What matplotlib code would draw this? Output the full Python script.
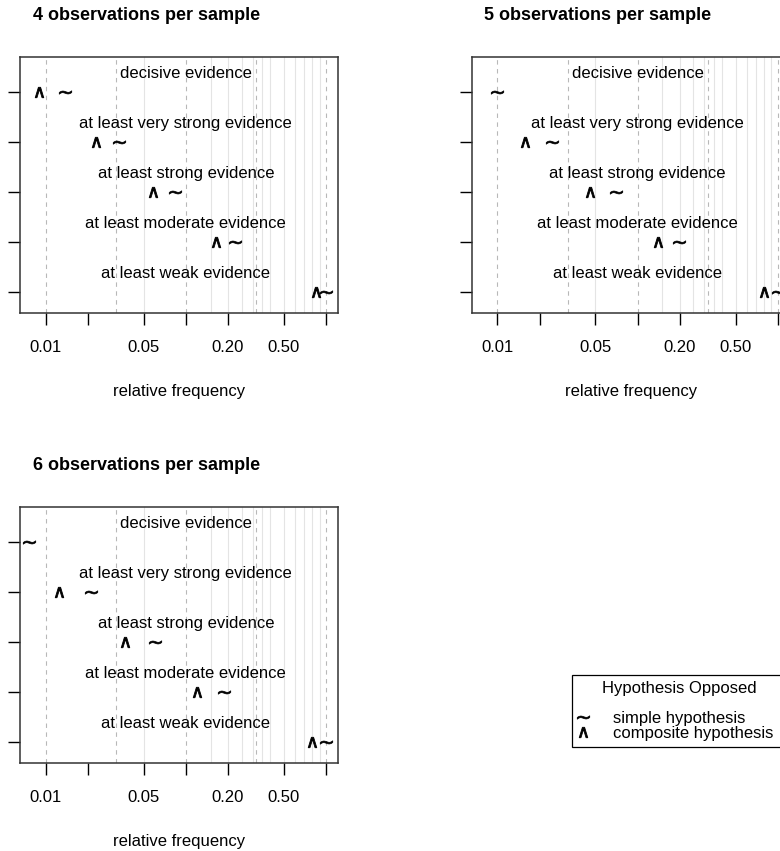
import numpy as np
import matplotlib
matplotlib.use('Agg')
import matplotlib.pyplot as plt
from matplotlib.lines import Line2D

plt.rcParams['font.family'] = ['Liberation Sans', 'DejaVu Sans']

# evidence categories, bottom row first
evidence = ['at least weak evidence', 'at least moderate evidence',
            'at least strong evidence', 'at least very strong evidence',
            'decisive evidence']
rows = [1, 2, 3, 4, 5]

titles = ['4 observations per sample', '5 observations per sample', '6 observations per sample']

# relative frequency where each level is reached
simple = [
    [1.0, 0.225, 0.084, 0.0334, 0.0138],
    [1.0, 0.198, 0.0703, 0.0247, 0.0100],
    [1.0, 0.186, 0.0604, 0.0210, 0.0076],
]
composite = [
    [0.853, 0.164, 0.0587, 0.0229, 0.0090],
    [0.793, 0.139, 0.0454, 0.0157, 0.0050],
    [0.794, 0.121, 0.0368, 0.0125, 0.0048],
]

xticks = [0.01, 0.02, 0.05, 0.1, 0.2, 0.5, 1.0]
xticklabels = ['0.01', '', '0.05', '', '0.20', '0.50', '']
dashed_lines = [0.01, 10 ** -1.5, 0.1, 10 ** -0.5, 1.0]
light_lines = [0.05, 0.15, 0.2, 0.25, 0.3, 0.35, 0.4, 0.5, 0.6, 0.7, 0.8, 0.9]

legend_title = 'Hypothesis Opposed'
legend_labels = ['simple hypothesis', 'composite hypothesis']

W, H = 780, 851
fig = plt.figure(figsize=(W / 100, H / 100), dpi=100)

# panel boxes in pixels (left, top); panel 2 runs past the right edge like the original
boxes = [(20, 57.3), (471.7, 57.3), (20, 507.3)]
bw, bh = 318, 255.7

for i, (x0, y0) in enumerate(boxes):
    ax = fig.add_axes([x0 / W, 1 - (y0 + bh) / H, bw / W, bh / H])
    ax.set_xscale('log')
    ax.set_xlim(0.00655, 1.218)
    ax.set_ylim(0.574, 5.688)

    for v in light_lines:
        ax.axvline(v, color='#e4e4e4', lw=0.8, zorder=0)
    for v in dashed_lines:
        ax.axvline(v, color='#b8b8b8', lw=0.8, ls=(0, (4, 4)), zorder=1)

    for r, lab in zip(rows, evidence):
        ax.text(0.1, r + 0.36, lab, ha='center', va='center', fontsize=12)

    ax.plot(simple[i], rows, ls='none', marker='$\\sim$', ms=9, color='black', mew=0.5)
    ax.plot(composite[i], rows, ls='none', marker='$\\wedge$', ms=7.5, color='black', mew=0.6)

    ax.set_xticks(xticks)
    ax.set_xticklabels(xticklabels)
    ax.xaxis.set_minor_locator(matplotlib.ticker.NullLocator())
    ax.set_yticks(rows)
    ax.set_yticklabels([])
    ax.tick_params(length=8.6, width=1, pad=11, labelsize=12, direction='out')
    for s in ax.spines.values():
        s.set_linewidth(1.1)
        s.set_color('#333333')
    ax.set_xlabel('relative frequency', fontsize=12, labelpad=20.5)
    ax.set_title(titles[i], x=0.397, fontsize=13, fontweight='bold', pad=26.5)

handles = [Line2D([], [], ls='none', marker='$\\sim$', ms=9, color='black', mew=0.5),
           Line2D([], [], ls='none', marker='$\\wedge$', ms=7.5, color='black', mew=0.6)]
leg = fig.legend(handles, legend_labels, title=legend_title, loc='upper left',
                 bbox_to_anchor=(572 / W, 1 - 750 / H, 215 / W, 75 / H), mode='expand',
                 fontsize=12, title_fontsize=12, frameon=True, fancybox=False,
                 edgecolor='black', framealpha=1, borderpad=0.35, handlelength=0.6,
                 handletextpad=1.5, labelspacing=0.0, borderaxespad=0)
leg.get_frame().set_linewidth(0.9)
leg._legend_box.sep = 11  # gap between legend title and entries

fig.savefig('out.png', dpi=100)
